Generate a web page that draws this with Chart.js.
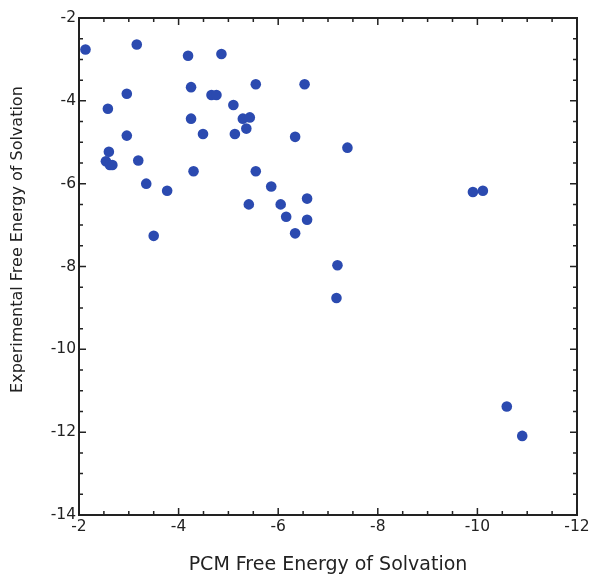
<!DOCTYPE html>
<html>
<head>
<meta charset="utf-8">
<script src="https://cdn.jsdelivr.net/npm/chart.js@4.4.1/dist/chart.umd.min.js"></script>
<style>
  body { margin: 0; background: #fff; }
</style>
</head>
<body>
<canvas id="solvChart" width="593" height="576"></canvas>
<script>
// PCM (x) vs experimental (y) free energy of solvation
const pcmEnergy = [-2.13, -3.16, -4.19, -4.86, -2.96, -2.58, -4.25, -4.66, -4.76, -5.55, -6.53,
  -5.10, -4.25, -5.29, -5.43, -5.36, -4.49, -5.13, -2.96, -6.34, -7.39, -2.60, -3.19, -2.54,
  -2.62, -2.67, -4.30, -5.55, -3.35, -3.77, -5.86, -5.41, -6.05, -6.58, -6.16, -6.58, -6.34,
  -3.50, -9.91, -10.11, -7.19, -7.17, -10.59, -10.90];
const expEnergy = [-2.76, -2.64, -2.91, -2.87, -3.83, -4.19, -3.67, -3.86, -3.86, -3.60, -3.60,
  -4.10, -4.43, -4.43, -4.40, -4.67, -4.80, -4.80, -4.84, -4.87, -5.13, -5.23, -5.44, -5.46,
  -5.55, -5.55, -5.70, -5.70, -6.00, -6.17, -6.07, -6.50, -6.50, -6.36, -6.80, -6.87, -7.20,
  -7.26, -6.20, -6.17, -7.97, -8.76, -11.38, -12.09];
const xRange = [-12, -2];
const yRange = [-14, -2];
const yTitle = 'Experimental Free Energy of Solvation';

const axisColor = '#222';
const fontFamily = '"DejaVu Sans", Verdana, sans-serif';

// frame with inward ticks on all four sides, every 0.5 units
const framePlugin = {
    id: 'frame',
    afterDraw(chart) {
        const ctx = chart.ctx;
        const a = chart.chartArea;
        const xs = chart.scales.x, ys = chart.scales.y;
        ctx.save();
        ctx.strokeStyle = axisColor;
        ctx.lineWidth = 2;
        ctx.strokeRect(a.left, a.top, a.right - a.left, a.bottom - a.top);
        ctx.lineWidth = 1.5;
        ctx.beginPath();
        for (let v = xRange[0]; v <= xRange[1] + 0.001; v += 0.5) {
            const px = xs.getPixelForValue(v);
            const len = Math.abs(v % 2) < 0.01 ? 7 : 4;
            ctx.moveTo(px, a.bottom); ctx.lineTo(px, a.bottom - len);
            ctx.moveTo(px, a.top); ctx.lineTo(px, a.top + len);
        }
        for (let v = yRange[0]; v <= yRange[1] + 0.001; v += 0.5) {
            const py = ys.getPixelForValue(v);
            const len = Math.abs(v % 2) < 0.01 ? 7 : 4;
            ctx.moveTo(a.left, py); ctx.lineTo(a.left + len, py);
            ctx.moveTo(a.right, py); ctx.lineTo(a.right - len, py);
        }
        ctx.stroke();

        // y title sits a bit above the middle of the axis, as in the original
        ctx.translate(18, ys.getPixelForValue(-7.35));
        ctx.rotate(-Math.PI / 2);
        ctx.fillStyle = axisColor;
        ctx.font = '16px ' + fontFamily;
        ctx.textAlign = 'center';
        ctx.textBaseline = 'middle';
        ctx.fillText(yTitle, 0, 0);
        ctx.restore();
    }
};

const ctx = document.getElementById('solvChart').getContext('2d');
new Chart(ctx, {
    type: 'scatter',
    data: {
        datasets: [{
            data: pcmEnergy.map((x, i) => ({ x: x, y: expEnergy[i] })),
            backgroundColor: '#2b4ab0',
            borderWidth: 0,
            pointRadius: 5.3
        }]
    },
    options: {
        responsive: false,
        animation: false,
        layout: { padding: { top: 18, right: 16, left: 0, bottom: 0 } },
        plugins: { legend: { display: false }, tooltip: { enabled: false } },
        scales: {
            x: {
                type: 'linear',
                reverse: true,
                min: xRange[0],
                max: xRange[1],
                grid: { display: false, drawTicks: false },
                border: { display: false },
                ticks: { stepSize: 2, padding: 3, color: axisColor, font: { family: fontFamily, size: 15.5 } },
                title: {
                    display: true,
                    text: 'PCM Free Energy of Solvation',
                    color: axisColor,
                    font: { family: fontFamily, size: 19 },
                    padding: { top: 0, bottom: 0 }
                },
                afterFit(scale) { scale.height = 61; }
            },
            y: {
                type: 'linear',
                min: yRange[0],
                max: yRange[1],
                grid: { display: false, drawTicks: false },
                border: { display: false },
                ticks: { stepSize: 2, padding: 3, color: axisColor, font: { family: fontFamily, size: 15.5 } },
                afterFit(scale) { scale.width = 79; }
            }
        }
    },
    plugins: [framePlugin]
});
</script>
</body>
</html>
